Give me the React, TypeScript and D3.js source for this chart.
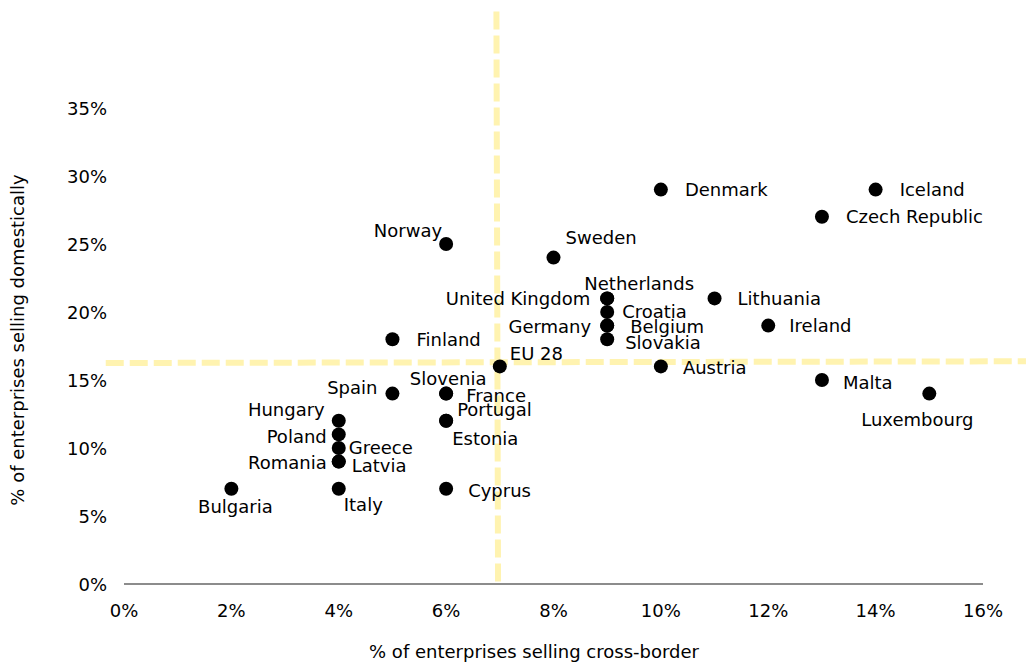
import React from "react";
import * as d3 from "d3";

// ---- data ----
const countries = [
  "Bulgaria", "Italy", "Hungary", "Poland", "Greece", "Romania", "Latvia",
  "Spain", "Finland", "Norway", "Slovenia", "France", "Portugal", "Estonia", "Cyprus",
  "EU 28", "Sweden", "United Kingdom", "Netherlands", "Croatia", "Germany", "Belgium", "Slovakia",
  "Denmark", "Austria", "Lithuania", "Ireland", "Czech Republic", "Malta", "Iceland", "Luxembourg",
];
const crossBorder = [
  2, 4, 4, 4, 4, 4, 4,
  5, 5, 6, 6, 6, 6, 6, 6,
  7, 8, 9, 9, 9, 9, 9, 9,
  10, 10, 11, 12, 13, 13, 14, 15,
];
const domestic = [
  7, 7, 12, 11, 10, 9, 9,
  14, 18, 25, 14, 14, 12, 12, 7,
  16, 24, 21, 21, 20, 19, 19, 18,
  29, 16, 21, 19, 27, 15, 29, 14,
];
const xTicks = [0, 2, 4, 6, 8, 10, 12, 14, 16];
const yTicks = [0, 5, 10, 15, 20, 25, 30, 35];
const xTitle = "% of enterprises selling cross-border";
const yTitle = "% of enterprises selling domestically";
// reference (average) lines: [start, end] values
const refVX = [6.937, 6.967];
const refVY = [42.1, 0.1];
const refHX = [-0.34, 16.8];
const refHY = [16.25, 16.375];

// ---- label layout (anchor, dx, dy relative to dot) ----
const labelLayout: Record<string, [string, number, number]> = {
  "Denmark": ["start", 24, 0],
  "Iceland": ["start", 24, 0],
  "Czech Republic": ["start", 24, 0],
  "Sweden": ["start", 12, -20],
  "Norway": ["end", -4, -14],
  "Netherlands": ["middle", 32, -15],
  "United Kingdom": ["end", -17, 0],
  "Croatia": ["start", 15, -1],
  "Germany": ["end", -16, 1],
  "Belgium": ["start", 23, 1],
  "Slovakia": ["start", 18, 3],
  "EU 28": ["start", 10, -13],
  "Austria": ["start", 22, 1],
  "Lithuania": ["start", 23, 0],
  "Ireland": ["start", 21, 0],
  "Malta": ["start", 21, 2],
  "Luxembourg": ["middle", -12, 26],
  "Finland": ["start", 24, 0],
  "Spain": ["end", -15, -6],
  "Slovenia": ["middle", 2, -15],
  "France": ["start", 20, 2],
  "Portugal": ["start", 11, -11],
  "Estonia": ["start", 6, 18],
  "Hungary": ["end", -14, -11],
  "Poland": ["end", -12, 2],
  "Greece": ["start", 10, -1],
  "Romania": ["end", -12, 1],
  "Latvia": ["start", 13, 4],
  "Italy": ["start", 5, 16],
  "Bulgaria": ["middle", 4, 18],
  "Cyprus": ["start", 22, 2],
};

const W = 1028;
const H = 667;
const FONT = "'DejaVu Sans', Verdana, sans-serif";

export default function App() {
  const x = d3.scaleLinear().domain([0, 16]).range([124, 983]);
  const y = d3.scaleLinear().domain([0, 35]).range([584, 108]);
  const fmt = (v: number) => `${v}%`;
  const capShift = 6.5;

  return (
    <svg
      width={W}
      height={H}
      style={{ position: "absolute", left: 0, top: 0, background: "#fff" }}
      fontFamily={FONT}
      fontSize={18}
    >
      {/* reference lines */}
      <line
        x1={x(refVX[0])}
        x2={x(refVX[1])}
        y1={y(refVY[0])}
        y2={y(refVY[1])}
        stroke="#fff3b0"
        strokeWidth={6}
        strokeDasharray="18 6"
      />
      <line
        x1={x(refHX[0])}
        x2={x(refHX[1])}
        y1={y(refHY[0])}
        y2={y(refHY[1])}
        stroke="#fff3b0"
        strokeWidth={6}
        strokeDasharray="18 6"
      />

      {/* x axis line */}
      <line x1={x(0)} x2={x(16)} y1={y(0)} y2={y(0)} stroke="#8c8c8c" strokeWidth={2} />

      {/* x ticks */}
      {xTicks.map((t) => (
        <text key={"xt" + t} x={x(t)} y={617} textAnchor="middle" fill="#000">
          {fmt(t)}
        </text>
      ))}
      {/* y ticks */}
      {yTicks.map((t) => (
        <text key={"yt" + t} x={107} y={y(t) + capShift} textAnchor="end" fill="#000">
          {fmt(t)}
        </text>
      ))}

      {/* axis titles */}
      <text x={534} y={658} textAnchor="middle" fill="#000">
        {xTitle}
      </text>
      <text
        transform={`translate(24, 340) rotate(-90)`}
        textAnchor="middle"
        fill="#000"
      >
        {yTitle}
      </text>

      {/* points */}
      {countries.map((c, i) => (
        <circle key={"p" + c} cx={x(crossBorder[i])} cy={y(domestic[i])} r={7} fill="#000" />
      ))}
      {/* labels */}
      {countries.map((c, i) => {
        const [anchor, dx, dy] = labelLayout[c] || ["start", 20, 0];
        return (
          <text
            key={"l" + c}
            x={x(crossBorder[i]) + dx}
            y={y(domestic[i]) + dy + capShift}
            textAnchor={anchor}
            fill="#000"
          >
            {c}
          </text>
        );
      })}
    </svg>
  );
}
